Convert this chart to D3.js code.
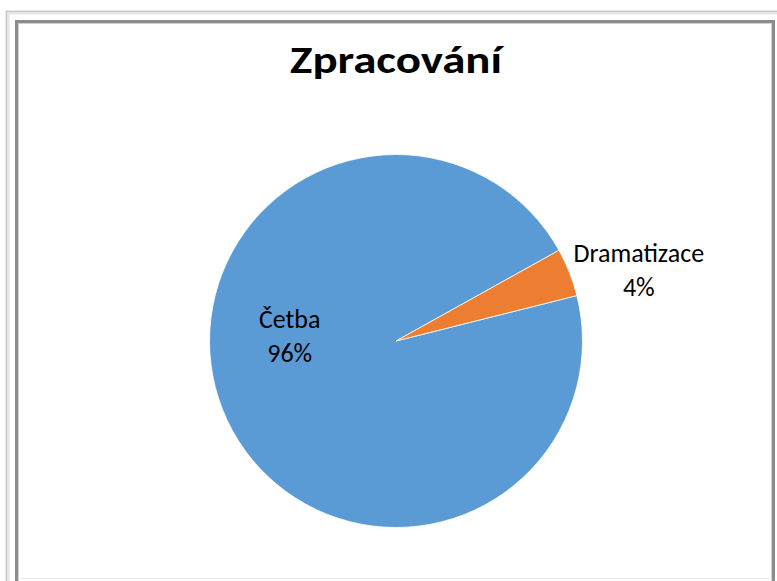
<!DOCTYPE html>
<html>
<head>
<meta charset="utf-8">
<script src="https://cdn.jsdelivr.net/npm/d3@7"></script>
<style>
  html, body { margin: 0; padding: 0; background: #fff; }
  svg { display: block; }
</style>
</head>
<body>
<div id="chart"></div>
<script>
// data
const title = 'Zpracování';
const categories = ['Četba', 'Dramatizace'];
const values = [23, 1];
const colors = ['#5B9BD5', '#ED7D31'];

const width = 777;
const height = 581;
const cx = 396, cy = 341;
const radius = 186.5;
const startDeg = 75.9;
const font = 'Calibri, Carlito, "Liberation Sans", Arial, sans-serif';

const svg = d3.select('#chart').append('svg')
    .attr('width', width)
    .attr('height', height);

// frame (outer light line + inner darker shadowed line)
const frame = svg.append('g').attr('class', 'frame');
frame.append('rect')
    .attr('x', 6.5).attr('y', 11.5)
    .attr('width', width + 10).attr('height', height + 10)
    .attr('fill', 'none')
    .attr('stroke', '#a6a6a6')
    .attr('stroke-width', 1.5);
frame.append('rect')
    .attr('x', 8).attr('y', 13)
    .attr('width', width).attr('height', height)
    .attr('fill', 'none')
    .attr('stroke', '#e6e6e6')
    .attr('stroke-width', 3);
frame.append('rect')
    .attr('x', 16.5).attr('y', 21.5)
    .attr('width', 757).attr('height', 580)
    .attr('fill', '#fff')
    .attr('stroke', '#8c8c8c')
    .attr('stroke-width', 3);
frame.append('rect')
    .attr('x', 18.5).attr('y', 23.5)
    .attr('width', 753).attr('height', 580)
    .attr('fill', 'none')
    .attr('stroke', '#d0d0d0')
    .attr('stroke-width', 1);
frame.append('line')
    .attr('x1', 18).attr('x2', 772)
    .attr('y1', 578.5).attr('y2', 578.5)
    .attr('stroke', '#ececec')
    .attr('stroke-width', 1);

// title
svg.append('text')
    .attr('x', 396)
    .attr('y', 73)
    .attr('text-anchor', 'middle')
    .attr('font-family', font)
    .attr('font-weight', 'bold')
    .attr('font-size', 39)
    .attr('textLength', 212)
    .attr('lengthAdjust', 'spacingAndGlyphs')
    .text(title);

const data = categories.map((c, i) => ({label: c, value: values[i], color: colors[i]}));
const total = d3.sum(values);

const start = startDeg * Math.PI / 180;
const pie = d3.pie()
    .sort(null)
    .value(d => d.value)
    .startAngle(start)
    .endAngle(start + 2 * Math.PI);

const arc = d3.arc()
    .innerRadius(0)
    .outerRadius(radius);

const arcs = pie(data);

const g = svg.append('g')
    .attr('transform', `translate(${cx},${cy})`);

g.selectAll('path')
  .data(arcs)
  .join('path')
    .attr('d', arc)
    .attr('fill', d => d.data.color)
    .attr('stroke', '#fff')
    .attr('stroke-width', 0.8)
    .attr('stroke-linejoin', 'round');

// labels: big slice inside, small slice outside
const fmt = d => Math.round(d.value / total * 100) + '%';
const labelPos = d => {
  const mid = (d.startAngle + d.endAngle) / 2;
  if (d.endAngle - d.startAngle > Math.PI) {
    return [-radius * 0.57, -13];
  }
  const r = radius * 1.4;
  return [Math.sin(mid) * r, -Math.cos(mid) * r + 17];
};

const labels = g.selectAll('.label')
  .data(arcs)
  .join('text')
    .attr('class', 'label')
    .attr('text-anchor', 'middle')
    .attr('font-family', font)
    .attr('font-size', 26)
    .attr('fill', '#000')
    .attr('transform', d => `translate(${labelPos(d)})`);

labels.append('tspan')
    .attr('x', 0)
    .attr('dy', 0)
    .text(d => d.data.label);
labels.append('tspan')
    .attr('x', 0)
    .attr('dy', 34)
    .text(fmt);
</script>
</body>
</html>
